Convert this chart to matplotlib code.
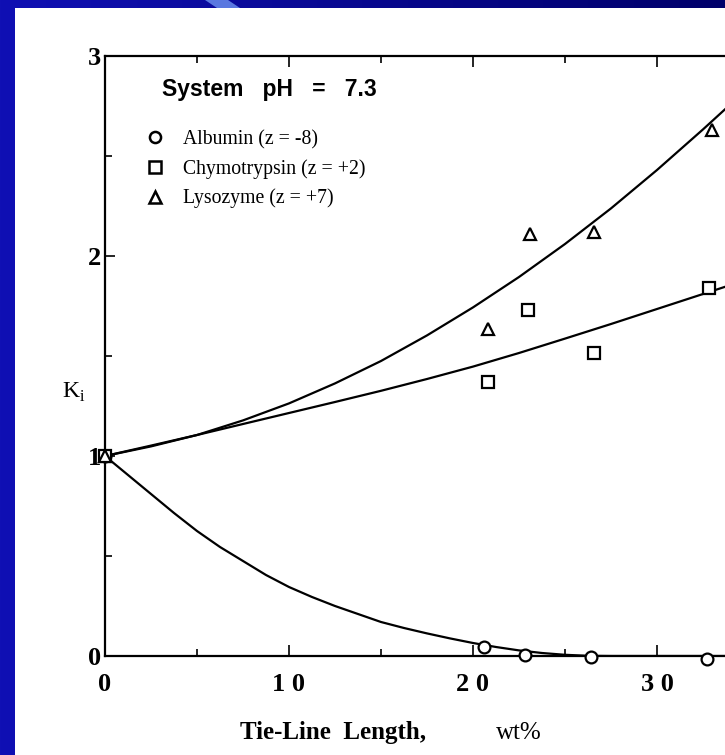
import matplotlib
matplotlib.use('Agg')
import matplotlib.pyplot as plt
import numpy as np
from matplotlib.patches import Rectangle, Polygon
from matplotlib.lines import Line2D

# ---------------- data ----------------
alb_x = [0, 20.6, 22.8, 26.4, 32.7]
alb_k = [1.0, 0.045, 0.005, -0.005, -0.015]
chy_x = [0, 20.8, 23.0, 26.6, 32.8]
chy_k = [1.0, 1.37, 1.73, 1.515, 1.84]
lys_x = [0, 20.8, 23.1, 26.6, 33.0]
lys_k = [1.0, 1.635, 2.11, 2.12, 2.63]

fit_x = [0, 2.5, 5, 7.5, 10, 12.5, 15, 17.5, 20, 22.5, 25, 27.5, 30, 32.5, 34]
lys_fit = [1.0, 1.048, 1.105, 1.178, 1.263, 1.363, 1.475, 1.603, 1.743, 1.895, 2.06, 2.238, 2.43, 2.633, 2.759]
chy_fit = [1.0, 1.052, 1.105, 1.16, 1.215, 1.27, 1.326, 1.385, 1.447, 1.515, 1.587, 1.66, 1.735, 1.81, 1.855]
alb_fit_x = [0, 1.25, 2.5, 3.75, 5, 6.25, 7.5, 8.75, 10, 11.25, 12.5, 13.75, 15, 16.25,
             17.5, 18.75, 20, 21.25, 22.5, 23.75, 25, 26.25, 27.5, 34]
alb_fit = [1.0, 0.905, 0.81, 0.715, 0.625, 0.545, 0.475, 0.405, 0.345, 0.295, 0.25, 0.21,
           0.17, 0.14, 0.113, 0.088, 0.065, 0.045, 0.028, 0.015, 0.006, 0.001, 0.0, 0.0]

legend_labels = ['Albumin (z = -8)', 'Chymotrypsin (z = +2)', 'Lysozyme (z = +7)']
x_ticks = [0, 10, 20, 30]
x_tick_labels = ['0', '1 0', '2 0', '3 0']
y_ticks = [0, 1, 2, 3]
y_tick_labels = ['0', '1', '2', '3']

# ---------------- figure ----------------
W, H = 725, 755
fig = plt.figure(figsize=(W / 100, H / 100), dpi=100)

bg = fig.add_axes([0, 0, 1, 1])
bg.set_axis_off()
c0 = np.array([0x10, 0x10, 0xb4]) / 255
c1 = np.array([0x00, 0x00, 0x6a]) / 255
t = np.linspace(0, 1, 256)[None, :, None]
grad = c0 * (1 - t) + c1 * t
grad = np.repeat(grad, 2, axis=0)
bg.imshow(grad, extent=[0, 1, 0, 1], aspect='auto', transform=bg.transAxes)
bg.set_xlim(0, 1)
bg.set_ylim(0, 1)
bg.add_patch(Polygon([[205 / W, 1], [228 / W, 1], [240 / W, 1 - 8 / H], [217 / W, 1 - 8 / H]],
                     closed=True, facecolor='#5a78e0', edgecolor='none', transform=bg.transAxes))
bg.add_patch(Rectangle((15 / W, 0), 1 - 15 / W, 1 - 8 / H, facecolor='white',
                       edgecolor='none', transform=bg.transAxes))

ax = fig.add_axes([105 / W, 99 / H, 620 / W, 600 / H])
ax.set_facecolor('none')
ax.set_xlim(0, 620 / 18.4)
ax.set_ylim(0, 3)

lw = 1.6
ax.plot(fit_x, lys_fit, color='black', lw=lw, solid_capstyle='round', solid_joinstyle='round')
ax.plot(fit_x, chy_fit, color='black', lw=lw, solid_capstyle='round', solid_joinstyle='round')
ax.plot(alb_fit_x, alb_fit, color='black', lw=lw, solid_capstyle='round', solid_joinstyle='round')

mk = dict(linestyle='none', markerfacecolor='white', markeredgecolor='black',
          markeredgewidth=1.6, clip_on=False, zorder=5)
ax.plot(alb_x, alb_k, marker='o', markersize=8.5, **mk)
ax.plot(chy_x, chy_k, marker='s', markersize=8.5, **mk)
ax.plot(lys_x, lys_k, marker='^', markersize=9, **mk)

for s in ['left', 'bottom', 'top']:
    ax.spines[s].set_linewidth(1.6)
ax.spines['right'].set_visible(False)

ax.set_xticks(x_ticks)
ax.set_xticklabels(x_tick_labels)
ax.set_xticks([5, 15, 25], minor=True)
ax.set_yticks(y_ticks)
ax.set_yticklabels(y_tick_labels)
ax.set_yticks([0.5, 1.5, 2.5], minor=True)
ax.tick_params(axis='both', which='both', direction='in', width=1.2, color='black')
ax.tick_params(axis='x', which='major', length=8, pad=12, top=True)
ax.tick_params(axis='x', which='minor', length=5, top=True)
ax.tick_params(axis='y', which='major', length=7, pad=3)
ax.tick_params(axis='y', which='minor', length=5)
for lab in ax.get_xticklabels() + ax.get_yticklabels():
    lab.set_fontfamily('Liberation Serif')
    lab.set_fontweight('bold')
    lab.set_fontsize(19)

# inner title
ax.text(57 / 620, 1 - 33 / 600, 'System   pH   =   7.3', transform=ax.transAxes,
        family='Liberation Sans', fontweight='bold', fontsize=16.5, ha='left', va='center')

handles = [Line2D([], [], marker=m, linestyle='none', markerfacecolor='white',
                  markeredgecolor='black', markeredgewidth=1.8, markersize=s)
           for m, s in zip(['o', 's', '^'], [8, 8, 8.5])]
leg = ax.legend(handles, legend_labels, loc='upper left',
                bbox_to_anchor=(40 / 620, 1 - 74 / 600), frameon=False,
                prop={'family': 'Liberation Serif', 'size': 14.2},
                handletextpad=0.95, labelspacing=0.5, handlelength=1.0,
                borderaxespad=0, borderpad=0)

fig.text(62 / W, 1 - 392 / H, r'K$_\mathregular{i}$', family='Liberation Serif',
         fontsize=17, ha='left', va='center')
fig.text(240 / W, 1 - 733 / H, 'Tie-Line  Length,', family='Liberation Serif',
         fontweight='bold', fontsize=18, ha='left', va='center')
fig.text(496 / W, 1 - 733 / H, 'wt%', family='Liberation Serif',
         fontsize=18, ha='left', va='center')

fig.savefig('out.png', dpi=100)
